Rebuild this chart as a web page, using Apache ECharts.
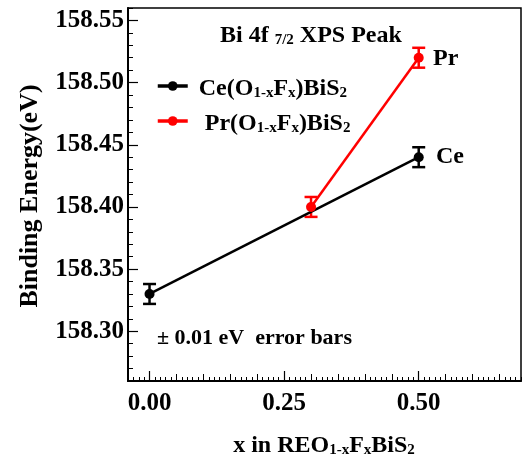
<!DOCTYPE html>
<html>
<head>
<meta charset="utf-8">
<script src="https://cdn.jsdelivr.net/npm/echarts@6/dist/echarts.min.js"></script>
<style>
html,body{margin:0;padding:0;background:#fff;}
#chart{width:524px;height:456px;}
</style>
</head>
<body>
<div id="chart"></div>
<script>
// ---- data ----
const xTickLabels = [0.00, 0.25, 0.50];
const yTickLabels = [158.30, 158.35, 158.40, 158.45, 158.50, 158.55];
const ceX = [0.00, 0.50];
const ceY = [158.33, 158.44];
const ceErr = [0.008, 0.008];
const prX = [0.30, 0.50];
const prY = [158.40, 158.52];
const prErr = [0.008, 0.008];

const FONT = 'Liberation Serif';
const X_MIN = -0.04, X_MAX = 0.69;
const Y_MIN = 158.26, Y_MAX = 158.56;

// tick positions (every 0.01, medium every 0.05)
const xMinor = [], xMid = [];
for (let i = -4; i <= 69; i++) { xMinor.push(i / 100); if (i % 5 === 0) xMid.push(i / 100); }
const yMinor = [];
for (let i = 15826; i <= 15856; i++) yMinor.push(i / 100);

const rich = {
  n: {fontFamily: FONT, fontWeight: 'bold', fontSize: 24, lineHeight: 30, verticalAlign: 'bottom', color: '#000'},
  s: {fontFamily: FONT, fontWeight: 'bold', fontSize: 15, lineHeight: 15, padding: [15, 0, 0, 0], verticalAlign: 'bottom', color: '#000'}
};
function formula(parts) { // parts: [[text, isSub], ...]
  return parts.map(p => (p[1] ? '{s|' : '{n|') + p[0] + '}').join('');
}

const ceName = 'Ce';
const prName = 'Pr';
const legendText = {
  Ce: formula([['Ce(O', 0], ['1-x', 1], ['F', 0], ['x', 1], [')BiS', 0], ['2', 1]]),
  Pr: formula([[' Pr(O', 0], ['1-x', 1], ['F', 0], ['x', 1], [')BiS', 0], ['2', 1]])
};

function errData(xs, ys, es) { return xs.map((x, i) => [x, ys[i] - es[i], ys[i] + es[i]]); }
function errSeries(xs, ys, es, color) {
  return {
    type: 'custom', xAxisIndex: 0, yAxisIndex: 0, silent: true,
    data: errData(xs, ys, es),
    renderItem: function (params, api) {
      const x = api.value(0);
      const p1 = api.coord([x, api.value(1)]);
      const p2 = api.coord([x, api.value(2)]);
      const w = 6.5;
      const st = {stroke: color, lineWidth: 2.5};
      return {type: 'group', children: [
        {type: 'line', shape: {x1: p1[0], y1: p1[1], x2: p2[0], y2: p2[1]}, style: st},
        {type: 'line', shape: {x1: p1[0] - w, y1: p1[1], x2: p1[0] + w, y2: p1[1]}, style: st},
        {type: 'line', shape: {x1: p2[0] - w, y1: p2[1], x2: p2[0] + w, y2: p2[1]}, style: st}
      ]};
    }
  };
}

const chart = echarts.init(document.getElementById('chart'), null, {renderer: 'canvas'});
const axisLab = {fontFamily: FONT, fontWeight: 'bold', fontSize: 25, color: '#000'};
chart.setOption({
  animation: false,
  backgroundColor: '#fff',
  grid: {left: 128, right: 3, top: 8, bottom: 75, show: true, borderColor: '#000', borderWidth: 1.5, backgroundColor: 'transparent'},
  xAxis: [
    {type: 'value', min: X_MIN, max: X_MAX, position: 'bottom',
     axisLine: {show: true, onZero: false, lineStyle: {color: '#000', width: 2}},
     axisTick: {show: true, inside: true, length: 7, customValues: xMid, lineStyle: {color: '#000', width: 1}},
     axisLabel: {show: true, customValues: xTickLabels, margin: 10, formatter: v => v.toFixed(2), ...axisLab},
     splitLine: {show: false}},
    {type: 'value', min: X_MIN, max: X_MAX, position: 'bottom',
     axisLine: {show: false, onZero: false},
     axisTick: {show: true, inside: true, length: 4, customValues: xMinor, lineStyle: {color: '#000', width: 1}},
     axisLabel: {show: false}, splitLine: {show: false}},
    {type: 'value', min: X_MIN, max: X_MAX, position: 'bottom',
     axisLine: {show: false, onZero: false},
     axisTick: {show: true, inside: true, length: 10, customValues: xTickLabels, lineStyle: {color: '#000', width: 1.2}},
     axisLabel: {show: false}, splitLine: {show: false}}
  ],
  yAxis: [
    {type: 'value', min: Y_MIN, max: Y_MAX, position: 'left',
     axisLine: {show: true, onZero: false, lineStyle: {color: '#000', width: 2}},
     axisTick: {show: true, inside: true, length: 10, customValues: yTickLabels, lineStyle: {color: '#000', width: 1.2}},
     axisLabel: {show: true, customValues: yTickLabels, margin: 4, formatter: v => v.toFixed(2), ...axisLab},
     splitLine: {show: false}},
    {type: 'value', min: Y_MIN, max: Y_MAX, position: 'left',
     axisLine: {show: false, onZero: false},
     axisTick: {show: true, inside: true, length: 5, customValues: yMinor, lineStyle: {color: '#000', width: 1}},
     axisLabel: {show: false}, splitLine: {show: false}}
  ],
  legend: {
    orient: 'vertical', left: 151, top: 66, itemWidth: 30, itemHeight: 12, itemGap: 5,
    data: [ceName, prName],
    formatter: name => legendText[name],
    lineStyle: {width: 3.5},
    itemStyle: {borderWidth: 0},
    textStyle: {rich: rich, padding: [0, 0, 0, 6]}
  },
  series: [
    {name: ceName, type: 'line', xAxisIndex: 0, yAxisIndex: 0,
     data: ceX.map((x, i) => [x, ceY[i]]),
     symbol: 'circle', symbolSize: 10, lineStyle: {color: '#000', width: 2.5}, itemStyle: {color: '#000'}},
    errSeries(ceX, ceY, ceErr, '#000'),
    {name: prName, type: 'line', xAxisIndex: 0, yAxisIndex: 0,
     data: prX.map((x, i) => [x, prY[i]]),
     symbol: 'circle', symbolSize: 10, lineStyle: {color: '#ff0000', width: 2.5}, itemStyle: {color: '#ff0000'}},
    errSeries(prX, prY, prErr, '#ff0000')
  ],
  graphic: [
    {type: 'text', left: 220, top: 18, style: {text: formula([['Bi 4f ', 0], ['7/2', 1], [' XPS Peak', 0]]), rich: rich}},
    {type: 'text', left: 433, top: 47, style: {text: '{n|Pr}', rich: rich}},
    {type: 'text', left: 436, top: 145, style: {text: '{n|Ce}', rich: rich}},
    {type: 'text', left: 157, top: 327, style: {text: '± 0.01 eV  error bars', fontFamily: FONT, fontWeight: 'bold', fontSize: 22, fill: '#000'}},
    {type: 'text', x: 324, y: 443, style: {text: formula([['x in REO', 0], ['1-x', 1], ['F', 0], ['x', 1], ['BiS', 0], ['2', 1]]), rich: rich, align: 'center', verticalAlign: 'middle'}},
    {type: 'text', x: 30, y: 196, rotation: Math.PI / 2, style: {text: 'Binding Energy(eV)', fontFamily: FONT, fontWeight: 'bold', fontSize: 26, fill: '#000', align: 'center', verticalAlign: 'middle'}}
  ]
});
</script>
</body>
</html>
